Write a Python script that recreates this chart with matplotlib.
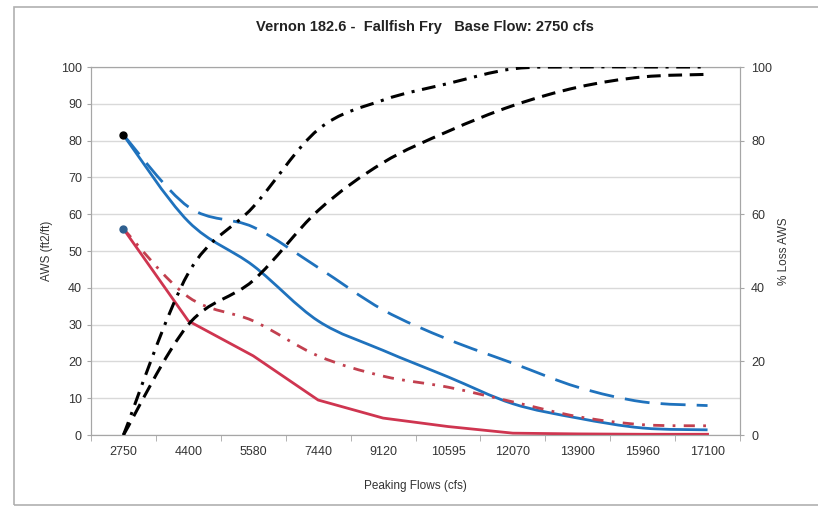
import numpy as np
import matplotlib.pyplot as plt
from matplotlib.path import Path
from matplotlib.patches import PathPatch, Rectangle

plt.rcParams['font.family'] = ['Liberation Sans', 'DejaVu Sans']

flows = ['2750', '4400', '5580', '7440', '9120', '10595', '12070', '13900', '15960', '17100']

# AWS (left axis)
aws_blue_solid = [81.5, 58, 46, 31, 23, 15.8, 8.5, 4.6, 1.9, 1.4]
aws_blue_dash = [81.5, 62, 56.5, 45.5, 34, 26, 19.5, 13, 9, 8]
aws_red_solid = [56, 31, 21.5, 9.5, 4.6, 2.3, 0.5, 0.3, 0.2, 0.2]
aws_red_dashdot = [56, 37.5, 31, 21.5, 16, 13, 9, 5, 2.8, 2.5]

# % loss AWS (right axis)
loss_dashdot = [0, 44, 62, 83, 91, 95.5, 99.5, 100, 100, 100]
loss_dash = [0, 30, 42, 61, 74, 82.5, 89.5, 94.5, 97.3, 98]

BLUE = '#1f72bd'
RED = '#cf3550'
RED2 = '#c2404f'


def smooth(x, y):
    # excel style smoothed line as cubic bezier segments
    pts = np.column_stack([x, y]).astype(float)
    n = len(pts)
    verts = [pts[0]]
    codes = [Path.MOVETO]
    for i in range(n - 1):
        p0 = pts[i - 1] if i > 0 else pts[i]
        p1 = pts[i]
        p2 = pts[i + 1]
        p3 = pts[i + 2] if i + 2 < n else pts[i + 1]
        verts += [p1 + (p2 - p0) / 6, p2 - (p3 - p1) / 6, p2]
        codes += [Path.CURVE4] * 3
    return Path(verts, codes)


def add_line(ax, y, color, ls, lw=2.0):
    x = np.arange(len(y))
    ax.add_patch(PathPatch(smooth(x, y), fill=False, edgecolor=color,
                           linestyle=ls, lw=lw, capstyle='butt', zorder=3))


fig = plt.figure(figsize=(8.18, 5.08), dpi=100)
fig.patches.append(Rectangle((14 / 818, 3 / 508), 1.2, 1 - 10 / 508,
                             transform=fig.transFigure, fill=False,
                             edgecolor='#b0b0b0', lw=1.2))

ax = fig.add_axes([91 / 818, 1 - 435 / 508, 649 / 818, 368 / 508])
ax2 = ax.twinx()

x = np.arange(len(flows))
add_line(ax, aws_blue_dash, BLUE, (0, (9, 4)))
add_line(ax, aws_blue_solid, BLUE, '-')
add_line(ax, aws_red_dashdot, RED2, (0, (4, 3, 1, 3)))
ax.plot(x, aws_red_solid, color=RED, lw=2.0, zorder=3)
ax.plot([0], [aws_blue_solid[0]], 'o', color='black', ms=5, zorder=4)
ax.plot([0], [aws_red_solid[0]], 'o', color='#2f5f8f', ms=5, zorder=4)

add_line(ax2, loss_dashdot, 'black', (0, (4.5, 2.5, 1, 2.5)), lw=2.2)
add_line(ax2, loss_dash, 'black', (0, (4.5, 2.5)), lw=2.2)

ax.set_xlim(-0.5, len(flows) - 0.5)
ax.set_ylim(0, 100)
ax2.set_ylim(0, 100)
ax.set_yticks(np.arange(0, 101, 10))
ax2.set_yticks(np.arange(0, 101, 20))
ax.set_xticks(x)
ax.set_xticklabels(flows)
ax.set_xticks(np.arange(-0.5, len(flows), 1), minor=True)

ax.grid(axis='y', color='#d9d9d9', lw=1)
ax.set_axisbelow(True)

for a in (ax, ax2):
    for s in a.spines.values():
        s.set_color('#a6a6a6')
    a.tick_params(colors='#a6a6a6', labelcolor='#333333', labelsize=9, length=3)
ax.tick_params(axis='x', which='major', length=0, pad=8)
ax.tick_params(axis='x', which='minor', length=4, color='#a6a6a6')
ax2.tick_params(axis='y', pad=5)

ax.set_ylabel('AWS (ft2/ft)', fontsize=8.5, color='#333333', labelpad=6)
ax2.set_ylabel('% Loss AWS', fontsize=8.5, color='#333333', rotation=90, labelpad=4)
ax.set_xlabel('Peaking Flows (cfs)', fontsize=8.5, color='#333333', labelpad=16)

fig.text(425 / 818, 1 - 27 / 508, 'Vernon 182.6 -  Fallfish Fry   Base Flow: 2750 cfs',
         ha='center', va='center', fontsize=10.5, fontweight='bold', color='#222222')

fig.savefig('out.png', dpi=100)
